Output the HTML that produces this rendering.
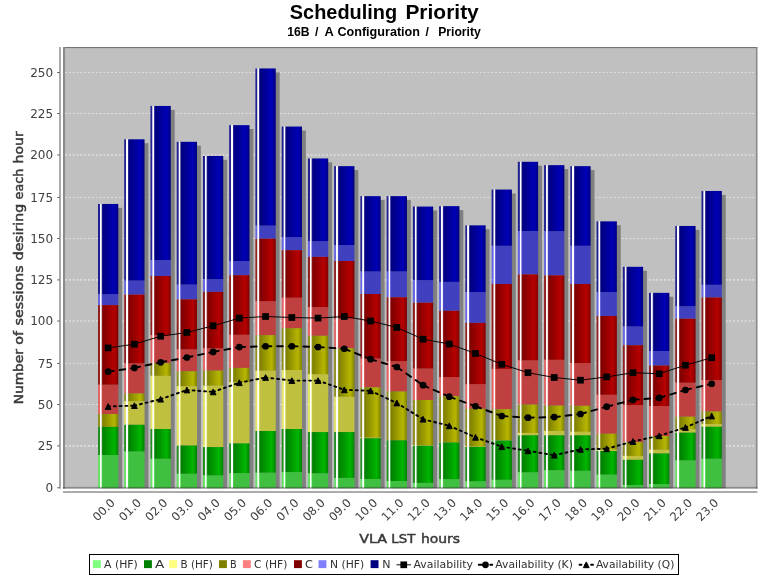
<!DOCTYPE html>
<html lang="en"><head><meta charset="utf-8"><title>Scheduling Priority</title>
<style>html,body{margin:0;padding:0;background:#fff;}svg{display:block;}text{font-family:"DejaVu Sans","Liberation Sans",sans-serif;}.lb{font-family:"Liberation Sans","DejaVu Sans",sans-serif;}</style>
</head><body>
<svg width="768" height="576" viewBox="0 0 768 576">
<defs>
<linearGradient id="gN" x1="0" y1="0" x2="1" y2="0"><stop offset="0" stop-color="#1a1a8d"/><stop offset="0.079" stop-color="#242492"/><stop offset="0.108" stop-color="#ffffff"/><stop offset="0.163" stop-color="#ffffff"/><stop offset="0.192" stop-color="#4040a0"/><stop offset="0.236" stop-color="#000080"/><stop offset="0.8" stop-color="#0000b6"/><stop offset="1" stop-color="#000080"/></linearGradient>
<linearGradient id="gC" x1="0" y1="0" x2="1" y2="0"><stop offset="0" stop-color="#8d1a1a"/><stop offset="0.079" stop-color="#922424"/><stop offset="0.108" stop-color="#ffffff"/><stop offset="0.163" stop-color="#ffffff"/><stop offset="0.192" stop-color="#a04040"/><stop offset="0.236" stop-color="#800000"/><stop offset="0.8" stop-color="#b60000"/><stop offset="1" stop-color="#800000"/></linearGradient>
<linearGradient id="gB" x1="0" y1="0" x2="1" y2="0"><stop offset="0" stop-color="#8d8d1a"/><stop offset="0.079" stop-color="#929224"/><stop offset="0.108" stop-color="#ffffff"/><stop offset="0.163" stop-color="#ffffff"/><stop offset="0.192" stop-color="#a0a040"/><stop offset="0.236" stop-color="#808000"/><stop offset="0.8" stop-color="#b6b600"/><stop offset="1" stop-color="#808000"/></linearGradient>
<linearGradient id="gA" x1="0" y1="0" x2="1" y2="0"><stop offset="0" stop-color="#1a8d1a"/><stop offset="0.079" stop-color="#249224"/><stop offset="0.108" stop-color="#ffffff"/><stop offset="0.163" stop-color="#ffffff"/><stop offset="0.192" stop-color="#40a040"/><stop offset="0.236" stop-color="#008000"/><stop offset="0.8" stop-color="#00b600"/><stop offset="1" stop-color="#008000"/></linearGradient>
<linearGradient id="gNHF" x1="0" y1="0" x2="1" y2="0"><stop offset="0" stop-color="#1a1aff" stop-opacity="0.55"/><stop offset="0.079" stop-color="#2424ff" stop-opacity="0.57"/><stop offset="0.108" stop-color="#ffffff" stop-opacity="1"/><stop offset="0.163" stop-color="#ffffff" stop-opacity="1"/><stop offset="0.192" stop-color="#4040ff" stop-opacity="0.62"/><stop offset="0.236" stop-color="#0000ff" stop-opacity="0.5"/><stop offset="1" stop-color="#0000ff" stop-opacity="0.5"/></linearGradient>
<linearGradient id="gCHF" x1="0" y1="0" x2="1" y2="0"><stop offset="0" stop-color="#ff1a1a" stop-opacity="0.55"/><stop offset="0.079" stop-color="#ff2424" stop-opacity="0.57"/><stop offset="0.108" stop-color="#ffffff" stop-opacity="1"/><stop offset="0.163" stop-color="#ffffff" stop-opacity="1"/><stop offset="0.192" stop-color="#ff4040" stop-opacity="0.62"/><stop offset="0.236" stop-color="#ff0000" stop-opacity="0.5"/><stop offset="1" stop-color="#ff0000" stop-opacity="0.5"/></linearGradient>
<linearGradient id="gBHF" x1="0" y1="0" x2="1" y2="0"><stop offset="0" stop-color="#ffff1a" stop-opacity="0.55"/><stop offset="0.079" stop-color="#ffff24" stop-opacity="0.57"/><stop offset="0.108" stop-color="#ffffff" stop-opacity="1"/><stop offset="0.163" stop-color="#ffffff" stop-opacity="1"/><stop offset="0.192" stop-color="#ffff40" stop-opacity="0.62"/><stop offset="0.236" stop-color="#ffff00" stop-opacity="0.5"/><stop offset="1" stop-color="#ffff00" stop-opacity="0.5"/></linearGradient>
<linearGradient id="gAHF" x1="0" y1="0" x2="1" y2="0"><stop offset="0" stop-color="#1aff1a" stop-opacity="0.55"/><stop offset="0.079" stop-color="#24ff24" stop-opacity="0.57"/><stop offset="0.108" stop-color="#ffffff" stop-opacity="1"/><stop offset="0.163" stop-color="#ffffff" stop-opacity="1"/><stop offset="0.192" stop-color="#40ff40" stop-opacity="0.62"/><stop offset="0.236" stop-color="#00ff00" stop-opacity="0.5"/><stop offset="1" stop-color="#00ff00" stop-opacity="0.5"/></linearGradient>
</defs>
<rect width="768" height="576" fill="#ffffff"/>
<text class="lb" y="19.0" font-weight="bold" font-size="20" fill="#000" style="white-space:pre"><tspan x="289.8" textLength="107.3" lengthAdjust="spacingAndGlyphs">Scheduling</tspan> <tspan x="405.4" textLength="73.4" lengthAdjust="spacingAndGlyphs">Priority</tspan></text>
<text class="lb" y="36.4" font-weight="bold" font-size="12" fill="#000" style="white-space:pre"><tspan x="287.3" textLength="22.3" lengthAdjust="spacingAndGlyphs">16B</tspan> <tspan x="314.9">/</tspan> <tspan x="324.4" textLength="8.8" lengthAdjust="spacingAndGlyphs">A</tspan> <tspan x="337.4" textLength="82.6" lengthAdjust="spacingAndGlyphs">Configuration</tspan> <tspan x="425.6">/</tspan>  <tspan x="438.2" textLength="42.6" lengthAdjust="spacingAndGlyphs">Priority</tspan></text>
<rect x="63" y="47" width="694.4" height="441.6" fill="#c0c0c0"/>
<g stroke="#ffffff" stroke-width="1" stroke-dasharray="1.92 1.92" stroke-opacity="0.5">
<line x1="65" y1="445.9" x2="756" y2="445.9" stroke-width="1.6"/>
<line x1="65" y1="404.5" x2="756" y2="404.5"/>
<line x1="65" y1="363.4" x2="756" y2="363.4"/>
<line x1="65" y1="321" x2="756" y2="321" stroke-width="1.6"/>
<line x1="65" y1="279.9" x2="756" y2="279.9" stroke-width="1.6"/>
<line x1="65" y1="238.5" x2="756" y2="238.5"/>
<line x1="65" y1="197.4" x2="756" y2="197.4"/>
<line x1="65" y1="155" x2="756" y2="155" stroke-width="1.6"/>
<line x1="65" y1="113.5" x2="756" y2="113.5"/>
<line x1="65" y1="72.5" x2="756" y2="72.5"/>
</g>
<g fill="#808080">
<rect x="101.9" y="207.85" width="20.3" height="280.35"/>
<rect x="128.14" y="143.2" width="20.3" height="345"/>
<rect x="154.38" y="109.85" width="20.3" height="378.35"/>
<rect x="180.62" y="145.7" width="20.3" height="342.5"/>
<rect x="206.86" y="159.85" width="20.3" height="328.35"/>
<rect x="233.1" y="129.05" width="20.3" height="359.15"/>
<rect x="259.34" y="72.35" width="20.3" height="415.85"/>
<rect x="285.58" y="130.45" width="20.3" height="357.75"/>
<rect x="311.82" y="162.35" width="20.3" height="325.85"/>
<rect x="338.06" y="170.05" width="20.3" height="318.15"/>
<rect x="364.3" y="200.05" width="20.3" height="288.15"/>
<rect x="390.54" y="200.05" width="20.3" height="288.15"/>
<rect x="416.78" y="210.45" width="20.3" height="277.75"/>
<rect x="443.02" y="210.05" width="20.3" height="278.15"/>
<rect x="469.26" y="229.25" width="20.3" height="258.95"/>
<rect x="495.5" y="193.45" width="20.3" height="294.75"/>
<rect x="521.74" y="165.7" width="20.3" height="322.5"/>
<rect x="547.98" y="169.05" width="20.3" height="319.15"/>
<rect x="574.22" y="170.05" width="20.3" height="318.15"/>
<rect x="600.46" y="225.25" width="20.3" height="262.95"/>
<rect x="626.7" y="270.7" width="20.3" height="217.5"/>
<rect x="652.94" y="296.75" width="20.3" height="191.45"/>
<rect x="679.18" y="229.85" width="20.3" height="258.35"/>
<rect x="705.42" y="194.85" width="20.3" height="293.35"/>
</g>
<g>
<rect x="98" y="203.95" width="20.3" height="90.25" fill="url(#gN)"/>
<rect x="98" y="294.2" width="20.3" height="10.9" fill="url(#gNHF)"/>
<rect x="98" y="305.1" width="20.3" height="79.6" fill="url(#gC)"/>
<rect x="98" y="384.7" width="20.3" height="29.3" fill="url(#gCHF)"/>
<rect x="98" y="414" width="20.3" height="12.9" fill="url(#gB)"/>
<rect x="98" y="426.9" width="20.3" height="28.1" fill="url(#gA)"/>
<rect x="98" y="455" width="20.3" height="33.2" fill="url(#gAHF)"/>
<rect x="124.24" y="139.3" width="20.3" height="141.3" fill="url(#gN)"/>
<rect x="124.24" y="280.6" width="20.3" height="14" fill="url(#gNHF)"/>
<rect x="124.24" y="294.6" width="20.3" height="68.7" fill="url(#gC)"/>
<rect x="124.24" y="363.3" width="20.3" height="30.2" fill="url(#gCHF)"/>
<rect x="124.24" y="393.5" width="20.3" height="7.7" fill="url(#gB)"/>
<rect x="124.24" y="401.2" width="20.3" height="23.6" fill="url(#gBHF)"/>
<rect x="124.24" y="424.8" width="20.3" height="26.7" fill="url(#gA)"/>
<rect x="124.24" y="451.5" width="20.3" height="36.7" fill="url(#gAHF)"/>
<rect x="150.48" y="105.95" width="20.3" height="154.05" fill="url(#gN)"/>
<rect x="150.48" y="260" width="20.3" height="16" fill="url(#gNHF)"/>
<rect x="150.48" y="276" width="20.3" height="59.2" fill="url(#gC)"/>
<rect x="150.48" y="335.2" width="20.3" height="28" fill="url(#gCHF)"/>
<rect x="150.48" y="363.2" width="20.3" height="12.6" fill="url(#gB)"/>
<rect x="150.48" y="375.8" width="20.3" height="53.2" fill="url(#gBHF)"/>
<rect x="150.48" y="429" width="20.3" height="29.75" fill="url(#gA)"/>
<rect x="150.48" y="458.75" width="20.3" height="29.45" fill="url(#gAHF)"/>
<rect x="176.72" y="141.8" width="20.3" height="142.8" fill="url(#gN)"/>
<rect x="176.72" y="284.6" width="20.3" height="14.8" fill="url(#gNHF)"/>
<rect x="176.72" y="299.4" width="20.3" height="50" fill="url(#gC)"/>
<rect x="176.72" y="349.4" width="20.3" height="21.85" fill="url(#gCHF)"/>
<rect x="176.72" y="371.25" width="20.3" height="15" fill="url(#gB)"/>
<rect x="176.72" y="386.25" width="20.3" height="59.35" fill="url(#gBHF)"/>
<rect x="176.72" y="445.6" width="20.3" height="28.15" fill="url(#gA)"/>
<rect x="176.72" y="473.75" width="20.3" height="14.45" fill="url(#gAHF)"/>
<rect x="202.96" y="155.95" width="20.3" height="123.25" fill="url(#gN)"/>
<rect x="202.96" y="279.2" width="20.3" height="12.7" fill="url(#gNHF)"/>
<rect x="202.96" y="291.9" width="20.3" height="56.4" fill="url(#gC)"/>
<rect x="202.96" y="348.3" width="20.3" height="22.3" fill="url(#gCHF)"/>
<rect x="202.96" y="370.6" width="20.3" height="15" fill="url(#gB)"/>
<rect x="202.96" y="385.6" width="20.3" height="61.5" fill="url(#gBHF)"/>
<rect x="202.96" y="447.1" width="20.3" height="28.3" fill="url(#gA)"/>
<rect x="202.96" y="475.4" width="20.3" height="12.8" fill="url(#gAHF)"/>
<rect x="229.2" y="125.15" width="20.3" height="135.85" fill="url(#gN)"/>
<rect x="229.2" y="261" width="20.3" height="14.2" fill="url(#gNHF)"/>
<rect x="229.2" y="275.2" width="20.3" height="59.6" fill="url(#gC)"/>
<rect x="229.2" y="334.8" width="20.3" height="33.1" fill="url(#gCHF)"/>
<rect x="229.2" y="367.9" width="20.3" height="14.2" fill="url(#gB)"/>
<rect x="229.2" y="382.1" width="20.3" height="61.4" fill="url(#gBHF)"/>
<rect x="229.2" y="443.5" width="20.3" height="29.6" fill="url(#gA)"/>
<rect x="229.2" y="473.1" width="20.3" height="15.1" fill="url(#gAHF)"/>
<rect x="255.44" y="68.45" width="20.3" height="157.15" fill="url(#gN)"/>
<rect x="255.44" y="225.6" width="20.3" height="13.15" fill="url(#gNHF)"/>
<rect x="255.44" y="238.75" width="20.3" height="62.5" fill="url(#gC)"/>
<rect x="255.44" y="301.25" width="20.3" height="33.95" fill="url(#gCHF)"/>
<rect x="255.44" y="335.2" width="20.3" height="35.4" fill="url(#gB)"/>
<rect x="255.44" y="370.6" width="20.3" height="60.4" fill="url(#gBHF)"/>
<rect x="255.44" y="431" width="20.3" height="41.7" fill="url(#gA)"/>
<rect x="255.44" y="472.7" width="20.3" height="15.5" fill="url(#gAHF)"/>
<rect x="281.68" y="126.55" width="20.3" height="110.55" fill="url(#gN)"/>
<rect x="281.68" y="237.1" width="20.3" height="13.1" fill="url(#gNHF)"/>
<rect x="281.68" y="250.2" width="20.3" height="47.5" fill="url(#gC)"/>
<rect x="281.68" y="297.7" width="20.3" height="30.6" fill="url(#gCHF)"/>
<rect x="281.68" y="328.3" width="20.3" height="41.7" fill="url(#gB)"/>
<rect x="281.68" y="370" width="20.3" height="59" fill="url(#gBHF)"/>
<rect x="281.68" y="429" width="20.3" height="43.1" fill="url(#gA)"/>
<rect x="281.68" y="472.1" width="20.3" height="16.1" fill="url(#gAHF)"/>
<rect x="307.92" y="158.45" width="20.3" height="82.8" fill="url(#gN)"/>
<rect x="307.92" y="241.25" width="20.3" height="15.65" fill="url(#gNHF)"/>
<rect x="307.92" y="256.9" width="20.3" height="50.2" fill="url(#gC)"/>
<rect x="307.92" y="307.1" width="20.3" height="28.7" fill="url(#gCHF)"/>
<rect x="307.92" y="335.8" width="20.3" height="38.4" fill="url(#gB)"/>
<rect x="307.92" y="374.2" width="20.3" height="57.9" fill="url(#gBHF)"/>
<rect x="307.92" y="432.1" width="20.3" height="41.2" fill="url(#gA)"/>
<rect x="307.92" y="473.3" width="20.3" height="14.9" fill="url(#gAHF)"/>
<rect x="334.16" y="166.15" width="20.3" height="78.85" fill="url(#gN)"/>
<rect x="334.16" y="245" width="20.3" height="16" fill="url(#gNHF)"/>
<rect x="334.16" y="261" width="20.3" height="57.5" fill="url(#gC)"/>
<rect x="334.16" y="318.5" width="20.3" height="29.8" fill="url(#gCHF)"/>
<rect x="334.16" y="348.3" width="20.3" height="48.4" fill="url(#gB)"/>
<rect x="334.16" y="396.7" width="20.3" height="35.4" fill="url(#gBHF)"/>
<rect x="334.16" y="432.1" width="20.3" height="45.8" fill="url(#gA)"/>
<rect x="334.16" y="477.9" width="20.3" height="10.3" fill="url(#gAHF)"/>
<rect x="360.4" y="196.15" width="20.3" height="75.35" fill="url(#gN)"/>
<rect x="360.4" y="271.5" width="20.3" height="22.5" fill="url(#gNHF)"/>
<rect x="360.4" y="294" width="20.3" height="64.5" fill="url(#gC)"/>
<rect x="360.4" y="358.5" width="20.3" height="28.8" fill="url(#gCHF)"/>
<rect x="360.4" y="387.3" width="20.3" height="50.2" fill="url(#gB)"/>
<rect x="360.4" y="437.5" width="20.3" height="0.8" fill="url(#gBHF)"/>
<rect x="360.4" y="438.3" width="20.3" height="40.7" fill="url(#gA)"/>
<rect x="360.4" y="479" width="20.3" height="9.2" fill="url(#gAHF)"/>
<rect x="386.64" y="196.15" width="20.3" height="75.35" fill="url(#gN)"/>
<rect x="386.64" y="271.5" width="20.3" height="25.8" fill="url(#gNHF)"/>
<rect x="386.64" y="297.3" width="20.3" height="63.95" fill="url(#gC)"/>
<rect x="386.64" y="361.25" width="20.3" height="30.25" fill="url(#gCHF)"/>
<rect x="386.64" y="391.5" width="20.3" height="48.9" fill="url(#gB)"/>
<rect x="386.64" y="440.4" width="20.3" height="40.6" fill="url(#gA)"/>
<rect x="386.64" y="481" width="20.3" height="7.2" fill="url(#gAHF)"/>
<rect x="412.88" y="206.55" width="20.3" height="73.65" fill="url(#gN)"/>
<rect x="412.88" y="280.2" width="20.3" height="22.5" fill="url(#gNHF)"/>
<rect x="412.88" y="302.7" width="20.3" height="65.9" fill="url(#gC)"/>
<rect x="412.88" y="368.6" width="20.3" height="31.4" fill="url(#gCHF)"/>
<rect x="412.88" y="400" width="20.3" height="45.2" fill="url(#gB)"/>
<rect x="412.88" y="445.2" width="20.3" height="0.6" fill="url(#gBHF)"/>
<rect x="412.88" y="445.8" width="20.3" height="37.1" fill="url(#gA)"/>
<rect x="412.88" y="482.9" width="20.3" height="5.3" fill="url(#gAHF)"/>
<rect x="439.12" y="206.15" width="20.3" height="75.75" fill="url(#gN)"/>
<rect x="439.12" y="281.9" width="20.3" height="28.9" fill="url(#gNHF)"/>
<rect x="439.12" y="310.8" width="20.3" height="66.3" fill="url(#gC)"/>
<rect x="439.12" y="377.1" width="20.3" height="19.15" fill="url(#gCHF)"/>
<rect x="439.12" y="396.25" width="20.3" height="45.75" fill="url(#gB)"/>
<rect x="439.12" y="442" width="20.3" height="0.5" fill="url(#gBHF)"/>
<rect x="439.12" y="442.5" width="20.3" height="36.7" fill="url(#gA)"/>
<rect x="439.12" y="479.2" width="20.3" height="9" fill="url(#gAHF)"/>
<rect x="465.36" y="225.35" width="20.3" height="66.75" fill="url(#gN)"/>
<rect x="465.36" y="292.1" width="20.3" height="30.8" fill="url(#gNHF)"/>
<rect x="465.36" y="322.9" width="20.3" height="61.3" fill="url(#gC)"/>
<rect x="465.36" y="384.2" width="20.3" height="24.55" fill="url(#gCHF)"/>
<rect x="465.36" y="408.75" width="20.3" height="37.55" fill="url(#gB)"/>
<rect x="465.36" y="446.3" width="20.3" height="0.6" fill="url(#gBHF)"/>
<rect x="465.36" y="446.9" width="20.3" height="34.35" fill="url(#gA)"/>
<rect x="465.36" y="481.25" width="20.3" height="6.95" fill="url(#gAHF)"/>
<rect x="491.6" y="189.55" width="20.3" height="56.25" fill="url(#gN)"/>
<rect x="491.6" y="245.8" width="20.3" height="38.2" fill="url(#gNHF)"/>
<rect x="491.6" y="284" width="20.3" height="84.9" fill="url(#gC)"/>
<rect x="491.6" y="368.9" width="20.3" height="40.3" fill="url(#gCHF)"/>
<rect x="491.6" y="409.2" width="20.3" height="31" fill="url(#gB)"/>
<rect x="491.6" y="440.2" width="20.3" height="0.4" fill="url(#gBHF)"/>
<rect x="491.6" y="440.6" width="20.3" height="39.2" fill="url(#gA)"/>
<rect x="491.6" y="479.8" width="20.3" height="8.4" fill="url(#gAHF)"/>
<rect x="517.84" y="161.8" width="20.3" height="69.2" fill="url(#gN)"/>
<rect x="517.84" y="231" width="20.3" height="43.4" fill="url(#gNHF)"/>
<rect x="517.84" y="274.4" width="20.3" height="86" fill="url(#gC)"/>
<rect x="517.84" y="360.4" width="20.3" height="44.2" fill="url(#gCHF)"/>
<rect x="517.84" y="404.6" width="20.3" height="28.3" fill="url(#gB)"/>
<rect x="517.84" y="432.9" width="20.3" height="2.5" fill="url(#gBHF)"/>
<rect x="517.84" y="435.4" width="20.3" height="36.9" fill="url(#gA)"/>
<rect x="517.84" y="472.3" width="20.3" height="15.9" fill="url(#gAHF)"/>
<rect x="544.08" y="165.15" width="20.3" height="66.1" fill="url(#gN)"/>
<rect x="544.08" y="231.25" width="20.3" height="44.15" fill="url(#gNHF)"/>
<rect x="544.08" y="275.4" width="20.3" height="84.4" fill="url(#gC)"/>
<rect x="544.08" y="359.8" width="20.3" height="45.8" fill="url(#gCHF)"/>
<rect x="544.08" y="405.6" width="20.3" height="25.3" fill="url(#gB)"/>
<rect x="544.08" y="430.9" width="20.3" height="4.5" fill="url(#gBHF)"/>
<rect x="544.08" y="435.4" width="20.3" height="34.8" fill="url(#gA)"/>
<rect x="544.08" y="470.2" width="20.3" height="18" fill="url(#gAHF)"/>
<rect x="570.32" y="166.15" width="20.3" height="79.65" fill="url(#gN)"/>
<rect x="570.32" y="245.8" width="20.3" height="38.2" fill="url(#gNHF)"/>
<rect x="570.32" y="284" width="20.3" height="79" fill="url(#gC)"/>
<rect x="570.32" y="363" width="20.3" height="42.8" fill="url(#gCHF)"/>
<rect x="570.32" y="405.8" width="20.3" height="25.9" fill="url(#gB)"/>
<rect x="570.32" y="431.7" width="20.3" height="3.7" fill="url(#gBHF)"/>
<rect x="570.32" y="435.4" width="20.3" height="35.4" fill="url(#gA)"/>
<rect x="570.32" y="470.8" width="20.3" height="17.4" fill="url(#gAHF)"/>
<rect x="596.56" y="221.35" width="20.3" height="70.75" fill="url(#gN)"/>
<rect x="596.56" y="292.1" width="20.3" height="23.9" fill="url(#gNHF)"/>
<rect x="596.56" y="316" width="20.3" height="78.8" fill="url(#gC)"/>
<rect x="596.56" y="394.8" width="20.3" height="38.95" fill="url(#gCHF)"/>
<rect x="596.56" y="433.75" width="20.3" height="15.85" fill="url(#gB)"/>
<rect x="596.56" y="449.6" width="20.3" height="1.4" fill="url(#gBHF)"/>
<rect x="596.56" y="451" width="20.3" height="23.6" fill="url(#gA)"/>
<rect x="596.56" y="474.6" width="20.3" height="13.6" fill="url(#gAHF)"/>
<rect x="622.8" y="266.8" width="20.3" height="59.7" fill="url(#gN)"/>
<rect x="622.8" y="326.5" width="20.3" height="18.7" fill="url(#gNHF)"/>
<rect x="622.8" y="345.2" width="20.3" height="59.8" fill="url(#gC)"/>
<rect x="622.8" y="405" width="20.3" height="37.2" fill="url(#gCHF)"/>
<rect x="622.8" y="442.2" width="20.3" height="13.7" fill="url(#gB)"/>
<rect x="622.8" y="455.9" width="20.3" height="3.9" fill="url(#gBHF)"/>
<rect x="622.8" y="459.8" width="20.3" height="25.2" fill="url(#gA)"/>
<rect x="622.8" y="485" width="20.3" height="3.2" fill="url(#gAHF)"/>
<rect x="649.04" y="292.85" width="20.3" height="58.15" fill="url(#gN)"/>
<rect x="649.04" y="351" width="20.3" height="14.6" fill="url(#gNHF)"/>
<rect x="649.04" y="365.6" width="20.3" height="40.4" fill="url(#gC)"/>
<rect x="649.04" y="406" width="20.3" height="30" fill="url(#gCHF)"/>
<rect x="649.04" y="436" width="20.3" height="13.7" fill="url(#gB)"/>
<rect x="649.04" y="449.7" width="20.3" height="3.8" fill="url(#gBHF)"/>
<rect x="649.04" y="453.5" width="20.3" height="30.5" fill="url(#gA)"/>
<rect x="649.04" y="484" width="20.3" height="4.2" fill="url(#gAHF)"/>
<rect x="675.28" y="225.95" width="20.3" height="80.3" fill="url(#gN)"/>
<rect x="675.28" y="306.25" width="20.3" height="12.5" fill="url(#gNHF)"/>
<rect x="675.28" y="318.75" width="20.3" height="63.95" fill="url(#gC)"/>
<rect x="675.28" y="382.7" width="20.3" height="34" fill="url(#gCHF)"/>
<rect x="675.28" y="416.7" width="20.3" height="12.5" fill="url(#gB)"/>
<rect x="675.28" y="429.2" width="20.3" height="3.5" fill="url(#gBHF)"/>
<rect x="675.28" y="432.7" width="20.3" height="27.7" fill="url(#gA)"/>
<rect x="675.28" y="460.4" width="20.3" height="27.8" fill="url(#gAHF)"/>
<rect x="701.52" y="190.95" width="20.3" height="93.85" fill="url(#gN)"/>
<rect x="701.52" y="284.8" width="20.3" height="12.7" fill="url(#gNHF)"/>
<rect x="701.52" y="297.5" width="20.3" height="82.5" fill="url(#gC)"/>
<rect x="701.52" y="380" width="20.3" height="31.5" fill="url(#gCHF)"/>
<rect x="701.52" y="411.5" width="20.3" height="12.5" fill="url(#gB)"/>
<rect x="701.52" y="424" width="20.3" height="2.8" fill="url(#gBHF)"/>
<rect x="701.52" y="426.8" width="20.3" height="31.95" fill="url(#gA)"/>
<rect x="701.52" y="458.75" width="20.3" height="29.45" fill="url(#gAHF)"/>
</g>
<rect x="63" y="47" width="694.4" height="1.1" fill="#737373"/>
<rect x="63" y="47" width="2.1" height="441.6" fill="#8b8b8b"/>
<rect x="755.9" y="47" width="1.5" height="441.6" fill="#8b8b8b"/>
<rect x="63" y="486.9" width="694.4" height="1.7" fill="#282828" fill-opacity="0.36"/>
<rect x="59" y="47" width="2" height="441.6" fill="#ababab"/>
<rect x="63" y="491" width="694.4" height="2" fill="#ababab"/>
<g font-size="12" fill="#404040" text-anchor="end">
<rect x="57.3" y="487.3" width="2.2" height="1" fill="#505050"/>
<text x="53.1" y="492.2">0</text>
<rect x="57.3" y="445.4" width="2.2" height="1" fill="#505050"/>
<text x="53.1" y="450.3">25</text>
<rect x="57.3" y="404" width="2.2" height="1" fill="#505050"/>
<text x="53.1" y="408.9">50</text>
<rect x="57.3" y="362.9" width="2.2" height="1" fill="#505050"/>
<text x="53.1" y="367.8">75</text>
<rect x="57.3" y="320.5" width="2.2" height="1" fill="#505050"/>
<text x="53.1" y="325.4">100</text>
<rect x="57.3" y="279.4" width="2.2" height="1" fill="#505050"/>
<text x="53.1" y="284.3">125</text>
<rect x="57.3" y="238" width="2.2" height="1" fill="#505050"/>
<text x="53.1" y="242.9">150</text>
<rect x="57.3" y="196.9" width="2.2" height="1" fill="#505050"/>
<text x="53.1" y="201.8">175</text>
<rect x="57.3" y="154.5" width="2.2" height="1" fill="#505050"/>
<text x="53.1" y="159.4">200</text>
<rect x="57.3" y="113" width="2.2" height="1" fill="#505050"/>
<text x="53.1" y="117.9">225</text>
<rect x="57.3" y="72" width="2.2" height="1" fill="#505050"/>
<text x="53.1" y="76.9">250</text>
</g>
<text class="ax" transform="translate(23.1,403.25) rotate(-90)" font-size="13" fill="#3a3a3a" stroke="#3a3a3a" stroke-width="0.5" style="white-space:pre"><tspan x="-0.9" textLength="54.95" lengthAdjust="spacingAndGlyphs">Number</tspan> <tspan x="58.45" textLength="13.85" lengthAdjust="spacingAndGlyphs">of</tspan> <tspan x="77.75" textLength="60.3" lengthAdjust="spacingAndGlyphs">sessions</tspan> <tspan x="143.1" textLength="56.2" lengthAdjust="spacingAndGlyphs">desiring</tspan> <tspan x="203.85" textLength="30.6" lengthAdjust="spacingAndGlyphs">each</tspan> <tspan x="239.85" textLength="32.1" lengthAdjust="spacingAndGlyphs">hour</tspan></text>
<g font-size="11.6" fill="#404040" text-anchor="end">
<text transform="translate(115.75,503.5) rotate(-45)">00.0</text>
<text transform="translate(141.99,503.5) rotate(-45)">01.0</text>
<text transform="translate(168.23,503.5) rotate(-45)">02.0</text>
<text transform="translate(194.47,503.5) rotate(-45)">03.0</text>
<text transform="translate(220.71,503.5) rotate(-45)">04.0</text>
<text transform="translate(246.95,503.5) rotate(-45)">05.0</text>
<text transform="translate(273.19,503.5) rotate(-45)">06.0</text>
<text transform="translate(299.43,503.5) rotate(-45)">07.0</text>
<text transform="translate(325.67,503.5) rotate(-45)">08.0</text>
<text transform="translate(351.91,503.5) rotate(-45)">09.0</text>
<text transform="translate(378.15,503.5) rotate(-45)">10.0</text>
<text transform="translate(404.39,503.5) rotate(-45)">11.0</text>
<text transform="translate(430.63,503.5) rotate(-45)">12.0</text>
<text transform="translate(456.87,503.5) rotate(-45)">13.0</text>
<text transform="translate(483.11,503.5) rotate(-45)">14.0</text>
<text transform="translate(509.35,503.5) rotate(-45)">15.0</text>
<text transform="translate(535.59,503.5) rotate(-45)">16.0</text>
<text transform="translate(561.83,503.5) rotate(-45)">17.0</text>
<text transform="translate(588.07,503.5) rotate(-45)">18.0</text>
<text transform="translate(614.31,503.5) rotate(-45)">19.0</text>
<text transform="translate(640.55,503.5) rotate(-45)">20.0</text>
<text transform="translate(666.79,503.5) rotate(-45)">21.0</text>
<text transform="translate(693.03,503.5) rotate(-45)">22.0</text>
<text transform="translate(719.27,503.5) rotate(-45)">23.0</text>
</g>
<text class="ax" y="543.1" font-size="13" fill="#3a3a3a" stroke="#3a3a3a" stroke-width="0.5" style="white-space:pre"><tspan x="359.2" textLength="27.9" lengthAdjust="spacingAndGlyphs">VLA</tspan> <tspan x="391.3" textLength="24" lengthAdjust="spacingAndGlyphs">LST</tspan> <tspan x="420.9" textLength="39.1" lengthAdjust="spacingAndGlyphs">hours</tspan></text>
<path d="M108.15 347.9L134.39 344.2M134.39 344.2L160.63 336.25M160.63 336.25L186.87 332.5M186.87 332.5L213.11 325.8M213.11 325.8L239.35 318.1M239.35 318.1L265.59 316.5M265.59 316.5L291.83 317.5M291.83 317.5L318.07 318.1M318.07 318.1L344.31 316.5M344.31 316.5L370.55 321M370.55 321L396.79 327.5M396.79 327.5L423.03 339.2M423.03 339.2L449.27 344M449.27 344L475.51 353.5M475.51 353.5L501.75 364.3M501.75 364.3L527.99 372.7M527.99 372.7L554.23 377.5M554.23 377.5L580.47 380.2M580.47 380.2L606.71 376.9M606.71 376.9L632.95 372.7M632.95 372.7L659.19 373.75M659.19 373.75L685.43 365.2M685.43 365.2L711.67 357.7" fill="none" stroke="#000" stroke-width="0.96" stroke-linecap="square"/>
<path d="M108.15 371.7L134.39 367.9M134.39 367.9L160.63 362.3M160.63 362.3L186.87 357.5M186.87 357.5L213.11 351.9M213.11 351.9L239.35 347.1M239.35 347.1L265.59 346.25M265.59 346.25L291.83 346.25M291.83 346.25L318.07 347M318.07 347L344.31 348.75M344.31 348.75L370.55 359.2M370.55 359.2L396.79 367M396.79 367L423.03 385.2M423.03 385.2L449.27 396.7M449.27 396.7L475.51 406.25M475.51 406.25L501.75 416M501.75 416L527.99 417.7M527.99 417.7L554.23 417.1M554.23 417.1L580.47 414M580.47 414L606.71 406.7M606.71 406.7L632.95 399.8M632.95 399.8L659.19 397.9M659.19 397.9L685.43 390M685.43 390L711.67 383.75" fill="none" stroke="#000" stroke-width="1.92" stroke-linecap="round" stroke-dasharray="5.76 5.76"/>
<path d="M108.15 406.5L134.39 405.6M134.39 405.6L160.63 399.2M160.63 399.2L186.87 390M186.87 390L213.11 391.9M213.11 391.9L239.35 382.7M239.35 382.7L265.59 377.5M265.59 377.5L291.83 380.6M291.83 380.6L318.07 380.6M318.07 380.6L344.31 389.8M344.31 389.8L370.55 390.8M370.55 390.8L396.79 403M396.79 403L423.03 419.2M423.03 419.2L449.27 425.8M449.27 425.8L475.51 437.3M475.51 437.3L501.75 446.7M501.75 446.7L527.99 450.8M527.99 450.8L554.23 455.2M554.23 455.2L580.47 449.4M580.47 449.4L606.71 448.75M606.71 448.75L632.95 441.5M632.95 441.5L659.19 435.8M659.19 435.8L685.43 427.5M685.43 427.5L711.67 416" fill="none" stroke="#000" stroke-width="1.92" stroke-linecap="round" stroke-dasharray="1.92 3.84"/>
<g fill="#000">
<rect x="104.8" y="344.55" width="6.7" height="6.7"/>
<circle cx="108.15" cy="371.7" r="3.35"/>
<polygon points="108.15,403.62 111.03,409.38 105.27,409.38" stroke="#000" stroke-width="0.96"/>
<rect x="131.04" y="340.85" width="6.7" height="6.7"/>
<circle cx="134.39" cy="367.9" r="3.35"/>
<polygon points="134.39,402.72 137.27,408.48 131.51,408.48" stroke="#000" stroke-width="0.96"/>
<rect x="157.28" y="332.9" width="6.7" height="6.7"/>
<circle cx="160.63" cy="362.3" r="3.35"/>
<polygon points="160.63,396.32 163.51,402.08 157.75,402.08" stroke="#000" stroke-width="0.96"/>
<rect x="183.52" y="329.15" width="6.7" height="6.7"/>
<circle cx="186.87" cy="357.5" r="3.35"/>
<polygon points="186.87,387.12 189.75,392.88 183.99,392.88" stroke="#000" stroke-width="0.96"/>
<rect x="209.76" y="322.45" width="6.7" height="6.7"/>
<circle cx="213.11" cy="351.9" r="3.35"/>
<polygon points="213.11,389.02 215.99,394.78 210.23,394.78" stroke="#000" stroke-width="0.96"/>
<rect x="236" y="314.75" width="6.7" height="6.7"/>
<circle cx="239.35" cy="347.1" r="3.35"/>
<polygon points="239.35,379.82 242.23,385.58 236.47,385.58" stroke="#000" stroke-width="0.96"/>
<rect x="262.24" y="313.15" width="6.7" height="6.7"/>
<circle cx="265.59" cy="346.25" r="3.35"/>
<polygon points="265.59,374.62 268.47,380.38 262.71,380.38" stroke="#000" stroke-width="0.96"/>
<rect x="288.48" y="314.15" width="6.7" height="6.7"/>
<circle cx="291.83" cy="346.25" r="3.35"/>
<polygon points="291.83,377.72 294.71,383.48 288.95,383.48" stroke="#000" stroke-width="0.96"/>
<rect x="314.72" y="314.75" width="6.7" height="6.7"/>
<circle cx="318.07" cy="347" r="3.35"/>
<polygon points="318.07,377.72 320.95,383.48 315.19,383.48" stroke="#000" stroke-width="0.96"/>
<rect x="340.96" y="313.15" width="6.7" height="6.7"/>
<circle cx="344.31" cy="348.75" r="3.35"/>
<polygon points="344.31,386.92 347.19,392.68 341.43,392.68" stroke="#000" stroke-width="0.96"/>
<rect x="367.2" y="317.65" width="6.7" height="6.7"/>
<circle cx="370.55" cy="359.2" r="3.35"/>
<polygon points="370.55,387.92 373.43,393.68 367.67,393.68" stroke="#000" stroke-width="0.96"/>
<rect x="393.44" y="324.15" width="6.7" height="6.7"/>
<circle cx="396.79" cy="367" r="3.35"/>
<polygon points="396.79,400.12 399.67,405.88 393.91,405.88" stroke="#000" stroke-width="0.96"/>
<rect x="419.68" y="335.85" width="6.7" height="6.7"/>
<circle cx="423.03" cy="385.2" r="3.35"/>
<polygon points="423.03,416.32 425.91,422.08 420.15,422.08" stroke="#000" stroke-width="0.96"/>
<rect x="445.92" y="340.65" width="6.7" height="6.7"/>
<circle cx="449.27" cy="396.7" r="3.35"/>
<polygon points="449.27,422.92 452.15,428.68 446.39,428.68" stroke="#000" stroke-width="0.96"/>
<rect x="472.16" y="350.15" width="6.7" height="6.7"/>
<circle cx="475.51" cy="406.25" r="3.35"/>
<polygon points="475.51,434.42 478.39,440.18 472.63,440.18" stroke="#000" stroke-width="0.96"/>
<rect x="498.4" y="360.95" width="6.7" height="6.7"/>
<circle cx="501.75" cy="416" r="3.35"/>
<polygon points="501.75,443.82 504.63,449.58 498.87,449.58" stroke="#000" stroke-width="0.96"/>
<rect x="524.64" y="369.35" width="6.7" height="6.7"/>
<circle cx="527.99" cy="417.7" r="3.35"/>
<polygon points="527.99,447.92 530.87,453.68 525.11,453.68" stroke="#000" stroke-width="0.96"/>
<rect x="550.88" y="374.15" width="6.7" height="6.7"/>
<circle cx="554.23" cy="417.1" r="3.35"/>
<polygon points="554.23,452.32 557.11,458.08 551.35,458.08" stroke="#000" stroke-width="0.96"/>
<rect x="577.12" y="376.85" width="6.7" height="6.7"/>
<circle cx="580.47" cy="414" r="3.35"/>
<polygon points="580.47,446.52 583.35,452.28 577.59,452.28" stroke="#000" stroke-width="0.96"/>
<rect x="603.36" y="373.55" width="6.7" height="6.7"/>
<circle cx="606.71" cy="406.7" r="3.35"/>
<polygon points="606.71,445.87 609.59,451.63 603.83,451.63" stroke="#000" stroke-width="0.96"/>
<rect x="629.6" y="369.35" width="6.7" height="6.7"/>
<circle cx="632.95" cy="399.8" r="3.35"/>
<polygon points="632.95,438.62 635.83,444.38 630.07,444.38" stroke="#000" stroke-width="0.96"/>
<rect x="655.84" y="370.4" width="6.7" height="6.7"/>
<circle cx="659.19" cy="397.9" r="3.35"/>
<polygon points="659.19,432.92 662.07,438.68 656.31,438.68" stroke="#000" stroke-width="0.96"/>
<rect x="682.08" y="361.85" width="6.7" height="6.7"/>
<circle cx="685.43" cy="390" r="3.35"/>
<polygon points="685.43,424.62 688.31,430.38 682.55,430.38" stroke="#000" stroke-width="0.96"/>
<rect x="708.32" y="354.35" width="6.7" height="6.7"/>
<circle cx="711.67" cy="383.75" r="3.35"/>
<polygon points="711.67,413.12 714.55,418.88 708.79,418.88" stroke="#000" stroke-width="0.96"/>
</g>
<g class="lg" font-size="11.2" fill="#303030">
<rect x="89.5" y="554.5" width="589" height="20" fill="#fff" stroke="#000" stroke-width="1"/>
<rect x="92.9" y="560.2" width="7.9" height="7.9" fill="#80ff80"/>
<text x="104.1" y="568.1" textLength="33.7" lengthAdjust="spacingAndGlyphs">A (HF)</text>
<rect x="144" y="560.2" width="7.9" height="7.9" fill="#008000"/>
<text x="154.9" y="568.1" textLength="9.35" lengthAdjust="spacingAndGlyphs">A</text>
<rect x="169.2" y="560.2" width="7.9" height="7.9" fill="#ffff80"/>
<text x="180.5" y="568.1" textLength="32.3" lengthAdjust="spacingAndGlyphs">B (HF)</text>
<rect x="219" y="560.2" width="7.9" height="7.9" fill="#808000"/>
<text x="230.1" y="568.1" textLength="6.65" lengthAdjust="spacingAndGlyphs">B</text>
<rect x="242.9" y="560.2" width="7.9" height="7.9" fill="#ff8080"/>
<text x="254.1" y="568.1" textLength="33.3" lengthAdjust="spacingAndGlyphs">C (HF)</text>
<rect x="294" y="560.2" width="7.9" height="7.9" fill="#800000"/>
<text x="304.9" y="568.1" textLength="7.9" lengthAdjust="spacingAndGlyphs">C</text>
<rect x="318.5" y="560.2" width="7.9" height="7.9" fill="#8080ff"/>
<text x="330.1" y="568.1" textLength="34.15" lengthAdjust="spacingAndGlyphs">N (HF)</text>
<rect x="370.6" y="560.2" width="7.9" height="7.9" fill="#000080"/>
<text x="382.2" y="568.1" textLength="8.3" lengthAdjust="spacingAndGlyphs">N</text>
<line x1="397.03" y1="564.8" x2="410.47" y2="564.8" stroke="#000" stroke-width="0.96" stroke-linecap="square"/>
<rect x="400.4" y="561.45" width="6.7" height="6.7" fill="#000"/>
<text x="413.45" y="568.1" textLength="59.6" lengthAdjust="spacingAndGlyphs">Availability</text>
<line x1="478.78" y1="564.8" x2="492.22" y2="564.8" stroke="#000" stroke-width="1.92" stroke-linecap="round" stroke-dasharray="5.76 5.76"/>
<circle cx="485.5" cy="564.8" r="3.35" fill="#000"/>
<text x="495.3" y="568.1" textLength="77.6" lengthAdjust="spacingAndGlyphs">Availability (K)</text>
<line x1="579.53" y1="564.8" x2="592.97" y2="564.8" stroke="#000" stroke-width="1.92" stroke-linecap="round" stroke-dasharray="1.92 3.84"/>
<polygon points="586.25,561.92 589.13,567.68 583.37,567.68" fill="#000" stroke="#000" stroke-width="0.96"/>
<text x="595.95" y="568.1" textLength="78.4" lengthAdjust="spacingAndGlyphs">Availability (Q)</text>
</g>
</svg>
</body></html>
